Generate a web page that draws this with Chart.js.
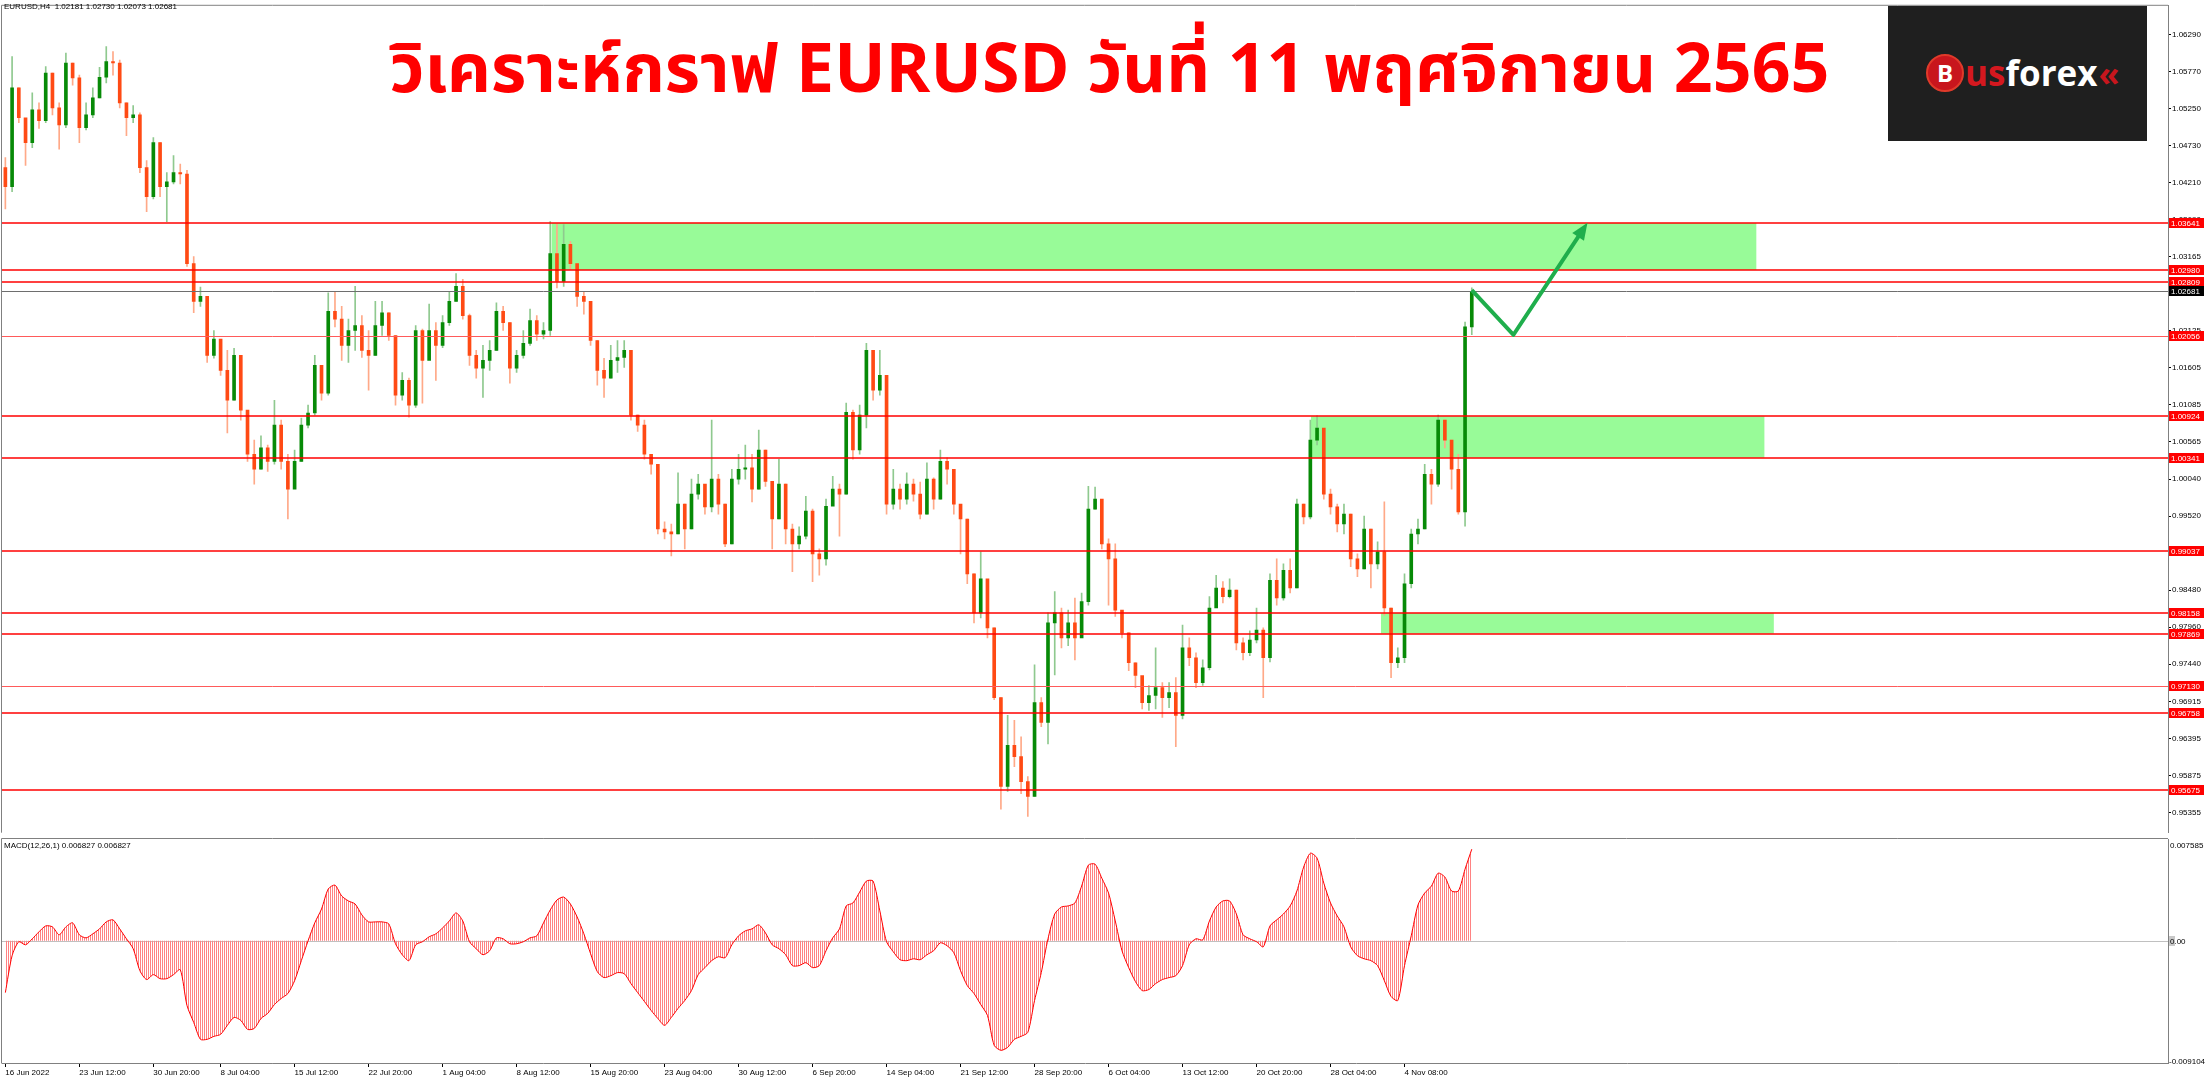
<!DOCTYPE html>
<html>
<head>
<meta charset="utf-8">
<script src="https://cdn.jsdelivr.net/npm/chart.js@4.4.1/dist/chart.umd.min.js"></script>
<style>
  html, body { margin: 0; padding: 0; background: #fff; }
  body { width: 2209px; height: 1080px; position: relative; overflow: hidden; font-family: "Liberation Sans", Arial, sans-serif; }
  canvas { position: absolute; left: 0; }
  #price { top: 0; }
  #macd { top: 838px; }
  .lbl { position: absolute; font-size: 8px; color: #000; white-space: pre; line-height: 10px; }
  #title { position: absolute; left: 372px; width: 1475px; top: 30px; text-align: center; white-space: nowrap;
           color: #ff0000; font-weight: bold; font-size: 68px; line-height: 84px;
           font-family: "Noto Sans Thai", "Noto Sans", "DejaVu Sans", sans-serif; }
  #logo { position: absolute; left: 1888px; top: 6px; width: 259px; height: 135px; background: #1f1f1f; }
  #logoInner { position: absolute; left: 38px; top: 44px; display: flex; align-items: center;
               font-family: "Open Sans", sans-serif; font-weight: 700; font-size: 35px; line-height: 46px; }
  .bcirc { display: inline-block; width: 34px; height: 34px; border-radius: 50%; background: #c8161d; color: #fff;
           font-size: 24px; line-height: 34px; text-align: center; border: 2px solid #e03a2a; margin-right: 1px; }
  .us { color: #d4181f; }
  .fx { color: #fff; }
  .chev { color: #c8161d; font-size: 34px; margin-left: 1px; }
</style>
</head>
<body>
<canvas id="price" width="2209" height="838"></canvas>
<canvas id="macd" width="2209" height="242"></canvas>
<div class="lbl" style="left:4px;top:2px;">EURUSD,H4  1.02181 1.02730 1.02073 1.02681</div>
<div class="lbl" style="left:4px;top:841px;">MACD(12,26,1) 0.006827 0.006827</div>
<div id="title">วิเคราะห์กราฟ EURUSD วันที่ 11 พฤศจิกายน 2565</div>
<div id="logo"><div id="logoInner"><span class="bcirc">B</span><span class="us">us</span><span class="fx">forex</span><span class="chev">«</span></div></div>
<script>
// H4 EURUSD, one candle per 12 hours (3 H4 bars)
const firstOpen = 1.0442;
const closes = [
  1.0415,1.0554,1.0512,1.0477,1.0523,1.0508,1.0575,1.0526,1.0502,1.0589,
  1.0568,1.0498,1.0516,1.0540,1.0569,1.0591,1.0589,1.0533,1.0512,1.0516,
  1.0442,1.0401,1.0477,1.0415,1.0422,1.0435,1.0433,1.0307,1.0254,1.0261,
  1.0178,1.0201,1.0157,1.0115,1.0178,1.0101,1.0039,1.0018,1.0048,1.0029,
  1.0080,1.0029,0.9990,1.0029,1.0080,1.0097,1.0164,1.0125,1.0240,1.0229,
  1.0192,1.0213,1.0220,1.0185,1.0178,1.0220,1.0238,1.0206,1.0122,1.0143,
  1.0108,1.0213,1.0171,1.0213,1.0192,1.0224,1.0254,1.0275,1.0234,1.0178,
  1.0160,1.0171,1.0185,1.0240,1.0224,1.0160,1.0178,1.0195,1.0227,1.0208,
  1.0213,1.0321,1.0282,1.0334,1.0307,1.0261,1.0254,1.0199,1.0157,1.0146,
  1.0171,1.0175,1.0185,1.0094,1.0080,1.0039,1.0025,0.9934,0.9930,0.9927,
  0.9969,0.9934,0.9983,0.9997,0.9965,1.0004,0.9969,0.9913,1.0004,1.0018,
  1.0020,0.9990,1.0045,1.0001,0.9948,0.9997,0.9934,0.9913,0.9924,0.9959,
  0.9899,0.9892,0.9966,0.9990,0.9983,1.0098,1.0045,1.0094,1.0185,1.0129,
  1.0150,0.9969,0.9990,0.9976,0.9997,0.9983,0.9955,1.0004,0.9976,1.0029,
  1.0018,0.9969,0.9948,0.9871,0.9816,0.9864,0.9795,0.9697,0.9572,0.9630,
  0.9614,0.9579,0.9558,0.9690,0.9662,0.9802,0.9816,0.9781,0.9802,0.9781,
  0.9832,0.9962,0.9976,0.9913,0.9892,0.9820,0.9788,0.9746,0.9728,0.9690,
  0.9700,0.9711,0.9697,0.9704,0.9672,0.9767,0.9753,0.9718,0.9739,0.9823,
  0.9851,0.9839,0.9848,0.9774,0.9760,0.9778,0.9792,0.9753,0.9862,0.9837,
  0.9876,0.9851,0.9969,0.9951,1.0059,1.0076,0.9983,0.9965,0.9941,0.9955,
  0.9892,0.9878,0.9934,0.9885,0.9902,0.9823,0.9746,0.9753,0.9857,0.9927,
  0.9934,1.0011,0.9997,1.0087,1.0059,1.0018,0.9958,1.02181,1.02681
];
const highs = [
  1.0456,1.0598,1.0554,1.0508,1.0547,1.0533,1.0584,1.0575,1.0533,1.0603,
  1.0589,1.0572,1.0533,1.0554,1.0583,1.0612,1.0605,1.0593,1.0533,1.0529,
  1.0519,1.0452,1.0484,1.0477,1.0435,1.0459,1.0447,1.0438,1.0317,1.0274,
  1.0254,1.0213,1.0199,1.0185,1.0188,1.0171,1.0098,1.0059,1.0065,1.0052,
  1.0115,1.0087,1.0039,1.0045,1.0090,1.0108,1.0178,1.0164,1.0266,1.0268,
  1.0247,1.0229,1.0275,1.0234,1.0213,1.0254,1.0254,1.0238,1.0206,1.0154,
  1.0146,1.0220,1.0215,1.0250,1.0224,1.0234,1.0268,1.0293,1.0285,1.0236,
  1.0185,1.0192,1.0199,1.0252,1.0247,1.0224,1.0185,1.0213,1.0243,1.0234,
  1.0224,1.0366,1.0363,1.0362,1.0338,1.0307,1.0268,1.0254,1.0199,1.0174,
  1.0192,1.0199,1.0199,1.0178,1.0094,1.0087,1.0039,1.0025,0.9944,0.9941,
  1.0013,0.9969,1.0004,1.0011,0.9994,1.0087,1.0011,0.9969,1.0018,1.0039,
  1.0052,1.0039,1.0073,1.0045,1.0001,1.0032,0.9997,0.9941,0.9937,0.9980,
  0.9962,0.9906,0.9976,1.0008,0.9997,1.0111,1.0101,1.0108,1.0195,1.0185,
  1.0185,1.0150,1.0018,0.9997,1.0013,1.0004,1.0000,1.0027,1.0006,1.0045,
  1.0034,1.0018,0.9965,0.9948,0.9871,0.9902,0.9857,0.9795,0.9697,0.9672,
  0.9665,0.9642,0.9586,0.9743,0.9697,0.9816,0.9846,0.9823,0.9820,0.9837,
  0.9844,0.9994,0.9993,0.9969,0.9920,0.9913,0.9802,0.9788,0.9746,0.9725,
  0.9714,0.9767,0.9718,0.9718,0.9725,0.9799,0.9781,0.9760,0.9750,0.9839,
  0.9869,0.9860,0.9864,0.9848,0.9781,0.9791,0.9823,0.9795,0.9871,0.9892,
  0.9885,0.9892,0.9976,0.9969,1.0087,1.0093,1.0073,0.9990,0.9969,0.9969,
  0.9955,0.9899,0.9952,0.9934,0.9916,0.9972,0.9823,0.9767,0.9871,0.9934,
  0.9948,1.0025,1.0018,1.0094,1.0087,1.0059,1.0039,1.0225,1.02730
];
const lows = [
  1.0384,1.0408,1.0505,1.0445,1.0470,1.0497,1.0505,1.0516,1.0468,1.0498,
  1.0558,1.0477,1.0495,1.0512,1.0540,1.0561,1.0572,1.0526,1.0487,1.0505,
  1.0435,1.0380,1.0398,1.0401,1.0366,1.0419,1.0419,1.0303,1.0238,1.0247,
  1.0168,1.0174,1.0150,1.0069,1.0115,1.0087,1.0029,0.9997,1.0018,1.0015,
  1.0025,1.0018,0.9948,0.9997,1.0029,1.0076,1.0094,1.0115,1.0122,1.0218,
  1.0171,1.0168,1.0185,1.0175,1.0129,1.0178,1.0206,1.0199,1.0108,1.0115,
  1.0091,1.0105,1.0111,1.0185,1.0143,1.0189,1.0220,1.0254,1.0229,1.0164,
  1.0146,1.0119,1.0157,1.0185,1.0213,1.0139,1.0154,1.0174,1.0192,1.0199,
  1.0201,1.0206,1.0273,1.0275,1.0299,1.0247,1.0236,1.0192,1.0136,1.0119,
  1.0146,1.0154,1.0161,1.0087,1.0071,1.0032,1.0011,0.9927,0.9920,0.9896,
  0.9927,0.9906,0.9934,0.9976,0.9955,0.9958,0.9955,0.9909,0.9913,0.9997,
  1.0004,0.9972,0.9990,0.9994,0.9906,0.9948,0.9913,0.9874,0.9906,0.9920,
  0.9860,0.9869,0.9883,0.9976,0.9924,0.9983,1.0032,1.0039,1.0076,1.0115,
  1.0122,0.9955,0.9962,0.9962,0.9969,0.9973,0.9948,0.9955,0.9962,0.9976,
  0.9997,0.9955,0.9899,0.9857,0.9802,0.9809,0.9781,0.9694,0.9540,0.9565,
  0.9600,0.9562,0.9530,0.9558,0.9656,0.9632,0.9729,0.9767,0.9770,0.9750,
  0.9816,0.9827,0.9962,0.9906,0.9827,0.9811,0.9781,0.9735,0.9711,0.9681,
  0.9679,0.9681,0.9669,0.9683,0.9628,0.9667,0.9742,0.9711,0.9714,0.9736,
  0.9825,0.9830,0.9837,0.9764,0.9750,0.9756,0.9774,0.9697,0.9747,0.9827,
  0.9834,0.9844,0.9851,0.9941,0.9948,1.0052,0.9976,0.9955,0.9930,0.9927,
  0.9881,0.9867,0.9878,0.9851,0.9878,0.9813,0.9725,0.9739,0.9746,0.9851,
  0.9913,0.9934,0.9969,0.9994,1.0048,0.9990,0.9955,0.9938,1.02073
];
const macdValues = [
  -0.00386,-0.00111,-0.00007,-0.00030,0.00015,0.00067,0.00111,0.00104,0.00045,0.00104,
  0.00134,0.00045,0.00022,0.00052,0.00089,0.00141,0.00156,0.00089,0.00015,-0.00059,
  -0.00223,-0.00289,-0.00252,-0.00282,-0.00282,-0.00252,-0.00215,-0.00482,-0.00608,-0.00734,
  -0.00734,-0.00712,-0.00697,-0.00630,-0.00571,-0.00593,-0.00660,-0.00653,-0.00579,-0.00541,
  -0.00475,-0.00430,-0.00393,-0.00297,-0.00148,0.00000,0.00134,0.00237,0.00386,0.00415,
  0.00334,0.00297,0.00274,0.00193,0.00141,0.00141,0.00141,0.00126,-0.00022,-0.00104,
  -0.00148,-0.00030,-0.00007,0.00030,0.00052,0.00096,0.00148,0.00208,0.00148,-0.00007,
  -0.00059,-0.00104,-0.00074,0.00022,0.00015,-0.00022,-0.00022,-0.00007,0.00022,0.00037,
  0.00134,0.00230,0.00304,0.00326,0.00274,0.00178,0.00052,-0.00096,-0.00230,-0.00274,
  -0.00260,-0.00237,-0.00245,-0.00319,-0.00386,-0.00452,-0.00519,-0.00579,-0.00630,-0.00571,
  -0.00504,-0.00445,-0.00371,-0.00252,-0.00200,-0.00148,-0.00119,-0.00126,-0.00030,0.00037,
  0.00074,0.00089,0.00119,0.00059,-0.00030,-0.00059,-0.00104,-0.00185,-0.00185,-0.00163,
  -0.00200,-0.00185,-0.00074,0.00022,0.00089,0.00260,0.00282,0.00363,0.00445,0.00445,
  0.00223,-0.00007,-0.00082,-0.00141,-0.00148,-0.00134,-0.00141,-0.00104,-0.00074,-0.00015,
  -0.00037,-0.00089,-0.00223,-0.00334,-0.00393,-0.00475,-0.00556,-0.00779,-0.00816,-0.00794,
  -0.00734,-0.00712,-0.00682,-0.00445,-0.00237,0.00015,0.00200,0.00252,0.00260,0.00282,
  0.00408,0.00564,0.00571,0.00467,0.00356,0.00148,-0.00074,-0.00200,-0.00304,-0.00371,
  -0.00363,-0.00319,-0.00289,-0.00274,-0.00260,-0.00185,-0.00030,0.00015,0.00007,0.00148,
  0.00252,0.00297,0.00297,0.00200,0.00045,0.00015,-0.00007,-0.00045,0.00111,0.00156,
  0.00200,0.00260,0.00371,0.00549,0.00653,0.00616,0.00430,0.00282,0.00185,0.00104,
  -0.00045,-0.00111,-0.00134,-0.00148,-0.00185,-0.00297,-0.00415,-0.00445,-0.00185,0.00037,
  0.00267,0.00356,0.00408,0.00504,0.00475,0.00371,0.00371,0.00534,0.006827
];

// time axis
const slotCount = 322;
const tickIdx = [0, 11, 22, 32, 43, 54, 65, 76, 87, 98, 109, 120, 131, 142, 153, 164, 175, 186, 197, 208];
const tickText = ['16 Jun 2022', '23 Jun 12:00', '30 Jun 20:00', '8 Jul 04:00', '15 Jul 12:00', '22 Jul 20:00',
  '1 Aug 04:00', '8 Aug 12:00', '15 Aug 20:00', '23 Aug 04:00', '30 Aug 12:00', '6 Sep 20:00',
  '14 Sep 04:00', '21 Sep 12:00', '28 Sep 20:00', '6 Oct 04:00', '13 Oct 12:00', '20 Oct 20:00',
  '28 Oct 04:00', '4 Nov 08:00'];

// price axis
const priceMin = 0.95078, priceMax = 1.06694;
const priceTicks = [1.06290, 1.05770, 1.05250, 1.04730, 1.04210, 1.03690, 1.03165, 1.02645, 1.02125, 1.01605,
  1.01085, 1.00565, 1.00040, 0.99520, 0.99000, 0.98480, 0.97960, 0.97440, 0.96915, 0.96395, 0.95875, 0.95355];

// drawn objects
const levels = [1.03641, 1.02980, 1.02809, 1.02056, 1.00924, 1.00341, 0.99037, 0.98158, 0.97869, 0.97130, 0.96758, 0.95675];
const thinLevels = [1.02056, 0.97130];
const lastPrice = 1.02681;
const zoneStart = [81.2, 194.1, 204.5];
const zoneEnd = [260.3, 261.5, 262.9];
const zoneTop = [1.03641, 1.00924, 0.98158];
const zoneBottom = [1.02980, 1.00341, 0.97869];
const arrowX = [218, 224.2, 235.2];
const arrowY = [1.02697, 1.02070, 1.03644];

// macd axis
const macdMax = 0.007585, macdMin = -0.009104;

const FONT = '8px "Liberation Sans", Arial, sans-serif';
const labels = Array.from({ length: slotCount }, (_, i) => {
  const k = tickIdx.indexOf(i);
  return k >= 0 ? tickText[k] : '';
});
const opens = closes.map((c, i) => (i === 0 ? firstOpen : closes[i - 1]));
const bodies = closes.map((c, i) => [opens[i], c]);
const wicks = lows.map((l, i) => [l, highs[i]]);
const isUp = closes.map((c, i) => c >= opens[i]);

const frame = (ctx, a) => {
  ctx.save();
  ctx.strokeStyle = '#808080';
  ctx.lineWidth = 1;
  ctx.beginPath();
  ctx.moveTo(a.left - 0.5, a.top - 0.5); ctx.lineTo(a.right, a.top - 0.5);
  ctx.moveTo(a.left - 0.5, a.top - 0.5); ctx.lineTo(a.left - 0.5, a.bottom + 0.5);
  ctx.stroke();
  ctx.restore();
};

const priceOverlay = {
  id: 'priceOverlay',
  beforeDatasetsDraw(chart) {
    const { ctx, scales: { x, y } } = chart;
    ctx.save();
    ctx.fillStyle = '#98fb98';
    zoneStart.forEach((s, k) => {
      const x0 = x.getPixelForValue(s), x1 = x.getPixelForValue(zoneEnd[k]);
      const y0 = y.getPixelForValue(zoneTop[k]), y1 = y.getPixelForValue(zoneBottom[k]);
      ctx.fillRect(x0, y0, x1 - x0, y1 - y0);
    });
    ctx.restore();
  },
  afterDatasetsDraw(chart) {
    const { ctx, chartArea: a, scales: { x, y } } = chart;
    ctx.save();
    // current price line
    let py = Math.round(y.getPixelForValue(lastPrice)) + 0.5;
    ctx.strokeStyle = '#6e6e6e';
    ctx.lineWidth = 1;
    ctx.beginPath(); ctx.moveTo(a.left, py); ctx.lineTo(a.right, py); ctx.stroke();
    // level lines
    levels.forEach((v) => {
      const thin = thinLevels.includes(v);
      ctx.strokeStyle = thin ? '#ff5a5a' : '#ff0000';
      ctx.lineWidth = thin ? 1 : 1.5;
      const yy = Math.round(y.getPixelForValue(v)) + (thin ? 0.5 : 0);
      ctx.beginPath(); ctx.moveTo(a.left, yy); ctx.lineTo(a.right, yy); ctx.stroke();
    });
    // arrow
    const pts = arrowX.map((v, i) => [x.getPixelForValue(v), y.getPixelForValue(arrowY[i])]);
    ctx.strokeStyle = '#1fae4c';
    ctx.fillStyle = '#1fae4c';
    ctx.lineWidth = 4;
    ctx.lineJoin = 'round';
    const [ex, ey] = pts[pts.length - 1];
    const [sx, sy] = pts[pts.length - 2];
    const ang = Math.atan2(ey - sy, ex - sx);
    ctx.beginPath();
    ctx.moveTo(pts[0][0], pts[0][1]);
    ctx.lineTo(pts[1][0], pts[1][1]);
    ctx.lineTo(ex - 10 * Math.cos(ang), ey - 10 * Math.sin(ang));
    ctx.stroke();
    ctx.beginPath();
    ctx.moveTo(ex, ey);
    ctx.lineTo(ex - 17 * Math.cos(ang) + 7 * Math.sin(ang), ey - 17 * Math.sin(ang) - 7 * Math.cos(ang));
    ctx.lineTo(ex - 17 * Math.cos(ang) - 7 * Math.sin(ang), ey - 17 * Math.sin(ang) + 7 * Math.cos(ang));
    ctx.closePath();
    ctx.fill();
    ctx.restore();
  },
  afterDraw(chart) {
    const { ctx, chartArea: a, scales: { y } } = chart;
    frame(ctx, a);
    ctx.save();
    ctx.font = FONT;
    ctx.textBaseline = 'middle';
    const box = (v, bg) => {
      const yy = Math.round(y.getPixelForValue(v));
      ctx.fillStyle = bg;
      ctx.fillRect(y.left + 1, yy - 5, 35, 10);
      ctx.fillStyle = '#fff';
      ctx.fillText(v.toFixed(5), y.left + 3, yy + 0.5);
    };
    levels.forEach((v) => box(v, '#ff0000'));
    box(lastPrice, '#000');
    ctx.restore();
  }
};

new Chart(document.getElementById('price'), {
  type: 'bar',
  data: {
    labels,
    datasets: [
      { data: wicks, backgroundColor: isUp.map((u) => (u ? '#8fc98f' : '#ffa988')), barThickness: 1, grouped: false, order: 2 },
      { data: bodies, backgroundColor: isUp.map((u) => (u ? '#078a07' : '#ff4a14')), barThickness: 3, minBarLength: 1, grouped: false, order: 1 }
    ]
  },
  options: {
    responsive: false, animation: false, events: [],
    layout: { padding: { left: 2, top: 2, bottom: 2, right: 0 } },
    plugins: { legend: { display: false }, tooltip: { enabled: false } },
    scales: {
      x: { type: 'category', display: false, offset: true },
      y: {
        position: 'right', min: priceMin, max: priceMax,
        afterFit: (s) => { s.width = 41; },
        afterBuildTicks: (s) => { s.ticks = priceTicks.map((v) => ({ value: v })); },
        ticks: { callback: (v) => Number(v).toFixed(5), font: { family: 'Liberation Sans', size: 8 }, color: '#000', padding: 1, autoSkip: false },
        grid: { drawOnChartArea: false, tickLength: 3, color: '#000' },
        border: { color: '#808080' }
      }
    }
  },
  plugins: [priceOverlay]
});

const macdCanvas = document.getElementById('macd');
const pc = document.createElement('canvas');
pc.width = 2; pc.height = 1;
const pg = pc.getContext('2d');
pg.fillStyle = '#ff8282';
pg.fillRect(0, 0, 1, 1);
const hatch = macdCanvas.getContext('2d').createPattern(pc, 'repeat');

const macdOverlay = {
  id: 'macdOverlay',
  beforeDatasetsDraw(chart) {
    const { ctx, chartArea: a, scales: { y } } = chart;
    const zy = Math.round(y.getPixelForValue(0)) + 0.5;
    ctx.save();
    ctx.strokeStyle = '#c0c0c0';
    ctx.lineWidth = 1;
    ctx.beginPath(); ctx.moveTo(a.left, zy); ctx.lineTo(a.right, zy); ctx.stroke();
    ctx.restore();
  },
  afterDraw(chart) {
    const { ctx, chartArea: a, scales: { y } } = chart;
    frame(ctx, a);
    ctx.save();
    ctx.font = FONT;
    ctx.fillStyle = '#000';
    ctx.textBaseline = 'middle';
    const zy = Math.round(y.getPixelForValue(0));
    ctx.fillStyle = '#c8c8c8';
    ctx.fillRect(y.left + 1, zy - 5, 6, 10);
    ctx.fillStyle = '#000';
    ctx.fillText(macdMax.toString(), y.left + 2, y.getPixelForValue(macdMax) + 7);
    ctx.fillText('0.00', y.left + 2, zy + 0.5);
    ctx.fillText(macdMin.toString(), y.left + 1, y.getPixelForValue(macdMin) - 1);
    ctx.restore();
  }
};

new Chart(macdCanvas, {
  type: 'line',
  data: {
    labels,
    datasets: [{
      data: macdValues, borderColor: '#ff0000', borderWidth: 1, backgroundColor: hatch,
      fill: 'origin', pointRadius: 0, tension: 0.25
    }]
  },
  options: {
    responsive: false, animation: false, events: [],
    layout: { padding: { left: 2, top: 1, bottom: 0, right: 0 } },
    plugins: { legend: { display: false }, tooltip: { enabled: false } },
    scales: {
      x: {
        type: 'category', offset: true,
        afterFit: (s) => { s.height = 17; },
        afterBuildTicks: (s) => { s.ticks = s.ticks.filter((t) => labels[t.value] !== ''); },
        ticks: { autoSkip: false, maxRotation: 0, minRotation: 0, align: 'start', font: { family: 'Liberation Sans', size: 8 }, color: '#000', padding: 1 },
        grid: { drawOnChartArea: false, offset: false, tickLength: 4, color: '#000' },
        border: { color: '#808080' }
      },
      y: {
        position: 'right', min: macdMin, max: macdMax,
        afterFit: (s) => { s.width = 41; },
        ticks: { display: false },
        grid: { display: false },
        border: { color: '#808080' }
      }
    }
  },
  plugins: [macdOverlay]
});
</script>
</body>
</html>
